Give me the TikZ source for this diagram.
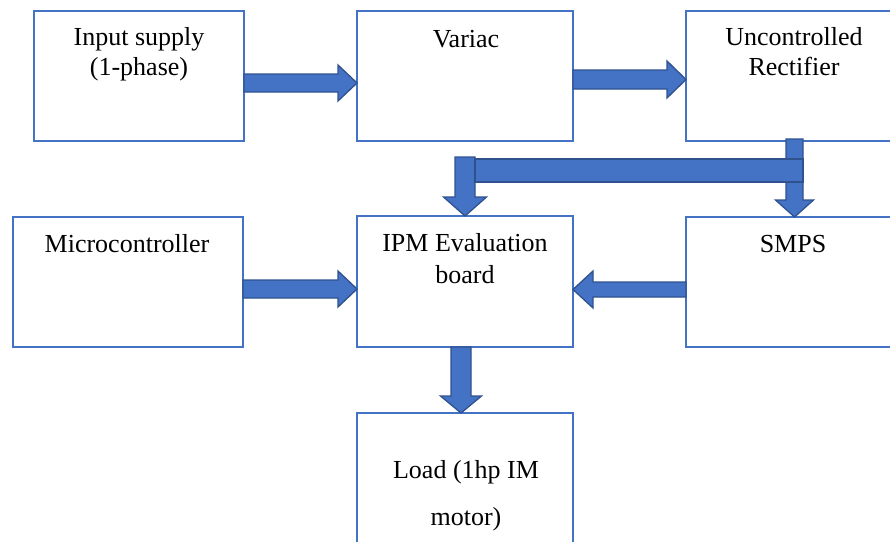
\documentclass[tikz,border=0pt]{standalone}
\usepackage{fontspec}
\setmainfont{Liberation Serif}
\usetikzlibrary{calc}
\definecolor{boxblue}{HTML}{4472C4}
\definecolor{arrowedge}{HTML}{2F528F}
\newcommand\myblockarrow[6]{% #1 prefix, #2 start, #3 tip, #4 half shaft, #5 half head, #6 head length
  \coordinate (#1hb) at ($(#3)!#6!(#2)$);
  \draw[blk] ($(#2)!#4!90:(#3)$) -- ($(#1hb)!#4!-90:(#2)$) -- ($(#1hb)!#5!-90:(#2)$) -- (#3)
    -- ($(#1hb)!#5!90:(#2)$) -- ($(#1hb)!#4!90:(#2)$) -- ($(#2)!#4!-90:(#3)$) -- cycle;
}
\begin{document}
\begin{tikzpicture}[x=1pt,y=-1pt,
  box/.style={draw=boxblue, line width=2pt, inner sep=0pt, outer sep=0pt},
  lbl/.style={font=\fontsize{26}{30}\selectfont, align=center, anchor=base, inner sep=0pt},
  blk/.style={fill=boxblue, draw=arrowedge, line width=1.3pt, line join=miter}]
\useasboundingbox (0,0) rectangle (890,541);
\clip (0,0) rectangle (890,541);
% boxes
\node[box, minimum width=210pt, minimum height=130pt] (inp) at (139,76) {};
\node[box, minimum width=216pt, minimum height=130pt] (var) at (465,76) {};
\node[box, minimum width=219pt, minimum height=130pt] (rect) at (795.5,76) {};
\node[box, minimum width=230pt, minimum height=130pt] (mcu) at (128,282) {};
\node[box, minimum width=216pt, minimum height=131pt] (ipm) at (465,281.5) {};
\node[box, minimum width=219pt, minimum height=130pt] (smps) at (795.5,282) {};
\node[box, minimum width=216pt, minimum height=147pt] (load) at (465,486.5) {};
% labels (base = baseline of the last line)
\node[lbl] (inpT) at (139,75) {Input supply\\(1-phase)};
\node[lbl] (varT) at (466,47) {Variac};
\node[lbl] (rectT) at (794,75) {Uncontrolled\\Rectifier};
\node[lbl] (mcuT) at (127,252) {Microcontroller};
\node[lbl] (ipmT) at (465,283) {IPM Evaluation\\[2pt]board};
\node[lbl] (smpsT) at (793,252) {SMPS};
\node[lbl] (loadT) at (466,525) {Load (1hp IM\\[17pt]motor)};
% connectors
\coordinate (a1s) at (inp.east |- 0,83);   \coordinate (a1e) at (var.west |- 0,83);
\coordinate (a2s) at (var.east |- 0,79.5); \coordinate (a2e) at (rect.west |- 0,79.5);
\coordinate (a3s) at (mcu.east |- 0,289);  \coordinate (a3e) at (ipm.west |- 0,289);
\coordinate (a4s) at (smps.west |- 0,289.5); \coordinate (a4e) at (ipm.east |- 0,289.5);
\coordinate (a5s) at (ipm.south -| 461,0); \coordinate (a5e) at (load.north -| 461,0);
\coordinate (a6s) at ($(rect.south -| 794.5,0)+(0,-2)$); \coordinate (a6e) at (smps.north -| 794.5,0);
\coordinate (a7s) at (465,157);            \coordinate (a7e) at (ipm.north -| 465,0);
\myblockarrow{a1}{a1s}{a1e}{9pt}{18pt}{19pt}
\myblockarrow{a2}{a2s}{a2e}{9.5pt}{18.5pt}{19pt}
\myblockarrow{a3}{a3s}{a3e}{9pt}{18pt}{19pt}
\myblockarrow{a4}{a4s}{a4e}{7.5pt}{18.5pt}{20pt}
\myblockarrow{a5}{a5s}{a5e}{10pt}{20.5pt}{17pt}
\myblockarrow{a6}{a6s}{a6e}{8.5pt}{19pt}{17pt}
\myblockarrow{a7}{a7s}{a7e}{10pt}{21.5pt}{19pt}
\draw[blk] (475,159) rectangle (803,182);
\end{tikzpicture}
\end{document}
